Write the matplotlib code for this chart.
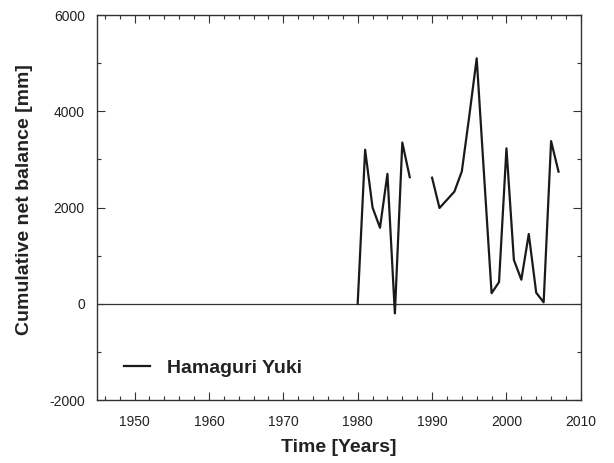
import numpy as np
import matplotlib
matplotlib.use("Agg")
import matplotlib.pyplot as plt
from matplotlib.ticker import MultipleLocator

plt.rcParams["font.family"] = ["Liberation Sans", "DejaVu Sans"]
plt.rcParams["axes.unicode_minus"] = False

# Cumulative net balance, Hamaguri Yuki (NaN = no data)
years = np.arange(1980, 2008)
balance = [0, 3200, 2000, 1580, 2700, -200, 3350, 2630,
           np.nan, np.nan,
           2620, 1990, 2160, 2330, 2750, 3900, 5100, 2650, 220, 450,
           3230, 910, 500, 1450, 230, 30, 3380, 2745]
series_label = "Hamaguri Yuki"

text_col = "#222222"
axis_col = "#333333"

fig = plt.figure(figsize=(6.14, 4.63), dpi=100)
ax = fig.add_axes([0.1585, 0.136, 0.7875, 0.8316])

ax.axhline(0, color=axis_col, lw=0.9, zorder=1)
ax.plot(years, balance, color="#1a1a1a", lw=1.6, label=series_label, zorder=2)

ax.set_xlim(1945, 2010)
ax.set_ylim(-2000, 6000)
ax.xaxis.set_major_locator(MultipleLocator(10))
ax.xaxis.set_minor_locator(MultipleLocator(2))
ax.yaxis.set_major_locator(MultipleLocator(2000))
ax.yaxis.set_minor_locator(MultipleLocator(1000))
ax.set_xticks([1950, 1960, 1970, 1980, 1990, 2000, 2010])

ax.tick_params(which="both", direction="in", top=True, right=True,
               color=axis_col, labelcolor=text_col, labelsize=10, width=0.8)
ax.tick_params(which="major", length=6)
ax.tick_params(which="minor", length=3)
ax.tick_params(axis="x", which="major", pad=11)
ax.tick_params(axis="y", which="major", pad=9)
for s in ax.spines.values():
    s.set_color(axis_col)
    s.set_linewidth(1.0)

ax.set_xlabel("Time [Years]", fontsize=14, fontweight="bold", color=text_col, labelpad=7)
ax.set_ylabel("Cumulative net balance [mm]", fontsize=14, fontweight="bold",
              color=text_col)
ax.yaxis.set_label_coords(-0.134, 0.52)

leg = ax.legend(loc="lower left", frameon=False, handlelength=1.3,
                handletextpad=0.9, bbox_to_anchor=(0.02, 0.015),
                prop={"weight": "bold", "size": 14})
for t in leg.get_texts():
    t.set_color(text_col)

fig.savefig("out.png", dpi=100)
